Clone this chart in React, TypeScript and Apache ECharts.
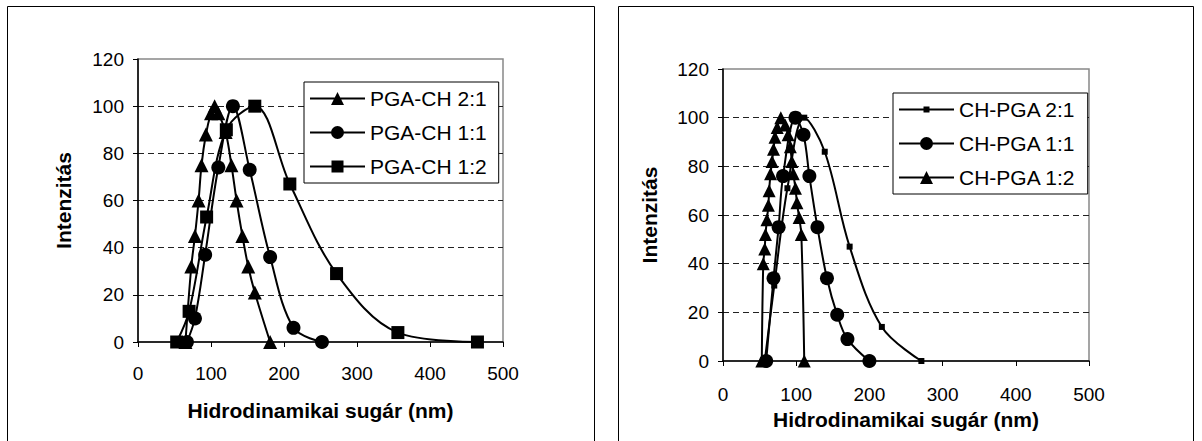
import React, { useEffect, useRef } from "react";
import * as echarts from "echarts";

// Left chart: PGA-CH
const pgaCh21: number[][] = [[65,0],[73,32],[78,45],[83,60],[87,75],[93,88],[100,97],[105,100],[110,97],[120,89],[128,75],[135,60],[143,45],[151,32],[160,21],[181,0]];
const pgaCh11: number[][] = [[67,0],[78,10],[92,37],[110,74],[130,100],[153,73],[181,36],[213,6],[252,0]];
const pgaCh12: number[][] = [[53,0],[70,13],[94,53],[121,90],[160,100],[208,67],[272,29],[356,4],[465,0]];

// Right chart: CH-PGA
const chPga21: number[][] = [[57,0],[70,31],[88,71],[111,100],[139,86],[173,47],[217,14],[271,0]];
const chPga11: number[][] = [[59,0],[69,34],[76,55],[82,76],[99,100],[110,93],[118,76],[129,55],[142,34],[156,19],[170,9],[200,0]];
const chPga12: number[][] = [[53,0],[55,40],[57,46],[58,52],[60,58],[62,64],[63,70],[65,77],[67,82],[69,87],[71,92],[74,96],[79,100],[85,97],[89,93],[92,88],[94,82],[96,77],[99,71],[101,65],[104,59],[107,52],[111,0]];

const leftNames = ["PGA-CH 2:1", "PGA-CH 1:1", "PGA-CH 1:2"];
const rightNames = ["CH-PGA 2:1", "CH-PGA 1:1", "CH-PGA 1:2"];
const xTitle = "Hidrodinamikai sugár (nm)";
const yTitle = "Intenzitás";

const FONT = "'Liberation Sans', Arial, sans-serif";

// legend icons: line + marker (55 wide, centred at y = 8.5)
const LINE = "M0,7.5H55V9.5H0Z";
const ICON_TRI = "path://" + LINE + "M27.5,2L34,15L21,15Z";
const ICON_CIRCLE = "path://" + LINE + "M21,8.5a6.5,6.5 0 1,1 13,0a6.5,6.5 0 1,1 -13,0Z";
const ICON_SQUARE = "path://" + LINE + "M21.5,2.5H33.5V14.5H21.5Z";
const ICON_SMALLSQ = "path://" + LINE + "M24.5,5.5H30.5V11.5H24.5Z";

export default function App() {
  const ref = useRef<HTMLDivElement>(null);
  useEffect(() => {
    const chart = echarts.init(ref.current!, null, { renderer: "svg" });
    const mkX = (gridIndex: number, nameGap: number, margin: number) => ({
      type: "value", gridIndex, min: 0, max: 500, interval: 100,
      name: xTitle, nameLocation: "middle", nameGap,
      nameTextStyle: { fontFamily: FONT, fontSize: 21, fontWeight: "bold", color: "#000" },
      axisLine: { show: true, onZero: false, lineStyle: { color: "#000", width: 1.5 } },
      axisTick: { show: true, inside: false, length: 5, lineStyle: { color: "#000", width: 1 } },
      axisLabel: { margin, fontFamily: FONT, fontSize: 19, color: "#000" },
      splitLine: { show: false },
    });
    const mkY = (gridIndex: number, nameGap: number) => ({
      type: "value", gridIndex, min: 0, max: 120, interval: 20,
      name: yTitle, nameLocation: "middle", nameGap, nameRotate: 90,
      nameTextStyle: { fontFamily: FONT, fontSize: 21, fontWeight: "bold", color: "#000" },
      axisLine: { show: true, onZero: false, lineStyle: { color: "#000", width: 1.5 } },
      axisTick: { show: true, inside: false, length: 5, lineStyle: { color: "#000", width: 1 } },
      axisLabel: { margin: 14, fontFamily: FONT, fontSize: 19, color: "#000" },
      splitLine: { show: true, showMinLine: false, showMaxLine: false, lineStyle: { type: [6, 4], color: "#222", width: 1 } },
    });
    const mkS = (name: string, data: number[][], idx: number, symbol: string, size: number) => ({
      type: "line", name, data, xAxisIndex: idx, yAxisIndex: idx,
      smooth: 0.35, symbol, symbolSize: size, showSymbol: true,
      lineStyle: { color: "#000", width: 2 },
      itemStyle: { color: "#000" },
      emphasis: { disabled: true },
    });
    const mkLegend = (names: string[], icons: string[], left: number, top: number) => ({
      orient: "vertical", left, top, selectedMode: false,
      data: names.map((n, i) => ({ name: n, icon: icons[i] })),
      symbolKeepAspect: true,
      borderColor: "#000", borderWidth: 1, backgroundColor: "#fff",
      padding: [6, 12, 6, 6], itemWidth: 55, itemHeight: 17, itemGap: 13,
      textStyle: { fontFamily: FONT, fontSize: 21, color: "#000" },
    });
    chart.setOption({
      animation: false,
      backgroundColor: "#fff",
      graphic: [
        { type: "rect", silent: true, z: -10, shape: { x: 7.5, y: 6.5, width: 587, height: 500 }, style: { fill: "none", stroke: "#000", lineWidth: 1 } },
        { type: "rect", silent: true, z: -10, shape: { x: 618.5, y: 6.5, width: 575, height: 500 }, style: { fill: "none", stroke: "#000", lineWidth: 1 } },
      ],
      grid: [
        { left: 138, top: 59, width: 365, height: 283, show: true, borderColor: "#888", borderWidth: 1.5, backgroundColor: "transparent" },
        { left: 723, top: 69, width: 366, height: 292, show: true, borderColor: "#888", borderWidth: 1.5, backgroundColor: "transparent" },
      ],
      xAxis: [mkX(0, 58, 22), mkX(1, 48, 24)],
      yAxis: [mkY(0, 64), mkY(1, 63)],
      legend: [
        mkLegend(leftNames, [ICON_TRI, ICON_CIRCLE, ICON_SQUARE], 304, 82),
        mkLegend(rightNames, [ICON_SMALLSQ, ICON_CIRCLE, ICON_TRI], 893, 93),
      ],
      series: [
        mkS(leftNames[0], pgaCh21, 0, "triangle", 14),
        mkS(leftNames[1], pgaCh11, 0, "circle", 14),
        mkS(leftNames[2], pgaCh12, 0, "rect", 13),
        mkS(rightNames[0], chPga21, 1, "rect", 6),
        mkS(rightNames[1], chPga11, 1, "circle", 14),
        mkS(rightNames[2], chPga12, 1, "triangle", 13),
      ],
    });
    return () => chart.dispose();
  }, []);
  return <div ref={ref} style={{ position: "fixed", left: 0, top: 0, width: 1202, height: 441, background: "#fff" }} />;
}
